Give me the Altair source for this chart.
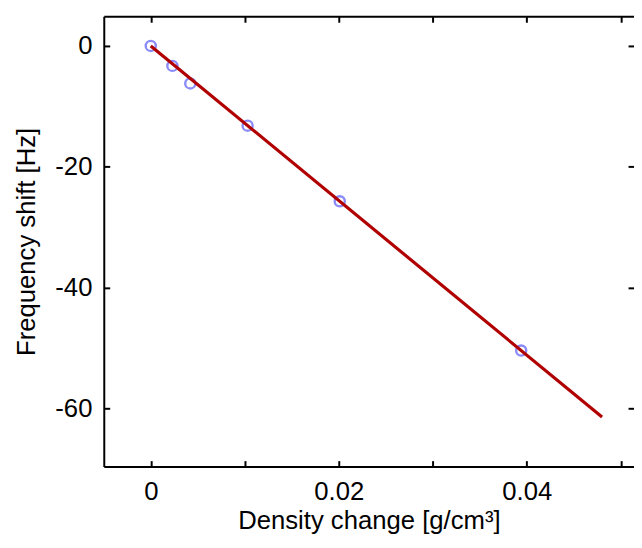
import altair as alt
import pandas as pd

# ---- data ----
density = [0.0, 0.0023, 0.0042, 0.0103, 0.0201, 0.0394]
shift = [0.0, -3.3, -6.2, -13.2, -25.7, -50.4]
fit_density = [0.0, 0.048]
fit_shift = [0.0, -61.4]
x_tick_values = [0.0, 0.01, 0.02, 0.03, 0.04, 0.05]
x_label_values = [0.0, 0.02, 0.04]
y_tick_values = [0, -20, -40, -60]

W, H = 537, 456
FONT = "Liberation Sans"
FS = 26

pts = pd.DataFrame({"d": density, "f": shift})
fit = pd.DataFrame({"d": fit_density, "f": fit_shift})

xscale = alt.Scale(domain=[-0.005, 0.0514], nice=False, zero=False)
yscale = alt.Scale(domain=[-69.6, 4.9], nice=False, zero=False)

x_main = alt.Axis(
    orient="bottom", values=x_label_values, grid=False,
    domain=True, domainColor="black", domainWidth=2,
    ticks=False, tickSize=0,
    labelExpr="datum.value + ''", labelFont=FONT, labelFontSize=FS,
    labelColor="black", labelPadding=12, labelFlush=False, labelOverlap=False,
    title="Density change [g/cm³]", titleFont=FONT, titleFontSize=FS,
    titleFontWeight="normal", titleColor="black", titleY=63,
    titleBaseline="alphabetic",
)
y_main = alt.Axis(
    orient="left", values=y_tick_values, grid=False,
    domain=True, domainColor="black", domainWidth=2,
    ticks=False, tickSize=0,
    labelExpr="datum.value + ''", labelFont=FONT, labelFontSize=FS,
    labelColor="black", labelPadding=12, labelFlush=False, labelOverlap=False,
    title="Frequency shift [Hz]", titleFont=FONT, titleFontSize=FS,
    titleFontWeight="normal", titleColor="black", titleX=-78,
    titleBaseline="middle",
)
tick_style = dict(grid=False, labels=False, ticks=True, tickSize=6,
                  tickColor="black", tickWidth=2, title=None)
x_ticks_bottom = alt.Axis(orient="top", offset=-H, values=x_tick_values,
                          domain=False, **tick_style)
x_ticks_top = alt.Axis(orient="bottom", offset=-H, values=x_tick_values,
                       domain=True, domainColor="black", domainWidth=2, **tick_style)
y_ticks_left = alt.Axis(orient="right", offset=-W, values=y_tick_values,
                        domain=False, **tick_style)
y_ticks_right = alt.Axis(orient="left", offset=-W, values=y_tick_values,
                         domain=False, **tick_style)

points = alt.Chart(pts).mark_point(
    shape="circle", filled=False, size=105, strokeWidth=2.4,
    color="#8a8af8", opacity=1,
).encode(
    x=alt.X("d:Q", scale=xscale, axis=x_main),
    y=alt.Y("f:Q", scale=yscale, axis=y_main),
)
line = alt.Chart(fit).mark_line(color="#b00000", strokeWidth=3.2).encode(
    x=alt.X("d:Q", scale=xscale, axis=x_ticks_bottom),
    y=alt.Y("f:Q", scale=yscale, axis=y_ticks_left),
)
ghost = alt.Chart(pts).mark_point(opacity=0).encode(
    x=alt.X("d:Q", scale=xscale, axis=x_ticks_top),
    y=alt.Y("f:Q", scale=yscale, axis=y_ticks_right),
)

chart = alt.layer(points, line, ghost).resolve_axis(
    x="independent", y="independent"
).properties(
    width=W, height=H,
    autosize=alt.AutoSizeParams(type="none"),
    padding={"left": 97, "top": 5, "right": 0, "bottom": 75},
    background="white",
).configure_view(stroke=None)

chart.save("out.html", embed_options={"renderer": "svg", "actions": False})
